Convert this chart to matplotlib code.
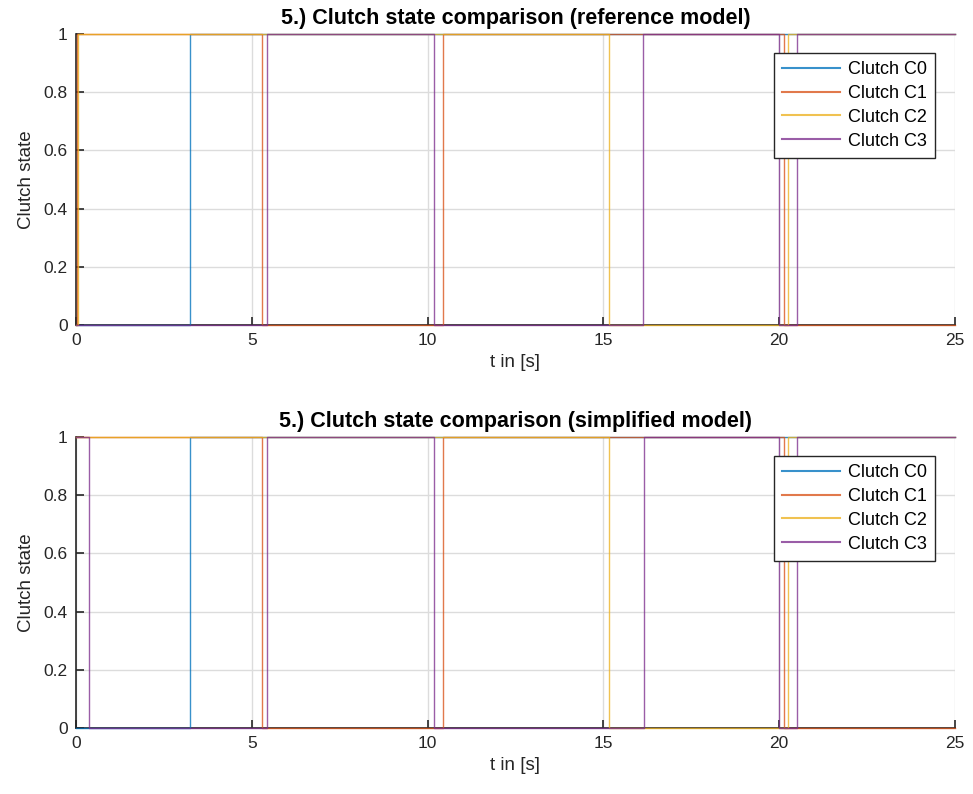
import numpy as np
import matplotlib.pyplot as plt

plt.rcParams['font.family'] = ['Liberation Sans', 'DejaVu Sans']

# switching instants [s] and clutch states (held until the next instant)
t_end = 25.0

ref_c0_t = [0.0, 3.24, t_end]
ref_c0_s = [0, 1, 1]
ref_c1_t = [0.0, 0.03, 5.29, 10.43, 20.15, t_end]
ref_c1_s = [0, 1, 0, 1, 0, 0]
ref_c2_t = [0.0, 0.06, 15.17, 20.25, t_end]
ref_c2_s = [0, 1, 0, 1, 1]
ref_c3_t = [0.0, 5.42, 10.18, 16.14, 19.99, 20.52, t_end]
ref_c3_s = [0, 1, 0, 1, 0, 1, 1]

sim_c0_t = [0.0, 3.24, t_end]
sim_c0_s = [0, 1, 1]
sim_c1_t = [0.0, 5.29, 10.43, 20.15, t_end]
sim_c1_s = [1, 0, 1, 0, 0]
sim_c2_t = [0.0, 15.17, 20.25, t_end]
sim_c2_s = [1, 0, 1, 1]
sim_c3_t = [0.0, 0.36, 5.42, 10.18, 16.16, 19.99, 20.52, t_end]
sim_c3_s = [1, 0, 1, 0, 1, 0, 1, 1]

labels = ['Clutch C0', 'Clutch C1', 'Clutch C2', 'Clutch C3']
colors = ['#0072BD', '#D95319', '#EDB120', '#7E2F8E']

x_ticks = [0, 5, 10, 15, 20, 25]
y_ticks = [0, 0.2, 0.4, 0.6, 0.8, 1]
y_ticklabels = ['0', '0.2', '0.4', '0.6', '0.8', '1']

fig = plt.figure(figsize=(9.73, 7.94), dpi=100)
ax1 = fig.add_axes([0.0781, 0.5907, 0.9034, 0.3665])
ax2 = fig.add_axes([0.0781, 0.0831, 0.9034, 0.3665])

ref = [(ref_c0_t, ref_c0_s), (ref_c1_t, ref_c1_s), (ref_c2_t, ref_c2_s), (ref_c3_t, ref_c3_s)]
sim = [(sim_c0_t, sim_c0_s), (sim_c1_t, sim_c1_s), (sim_c2_t, sim_c2_s), (sim_c3_t, sim_c3_s)]


def clutch_plot(ax, data, title):
    for (t, s), lab, c in zip(data, labels, colors):
        ax.step(t, s, where='post', color=c, lw=1.0, alpha=0.78, label=lab,
                clip_on=False, zorder=3)
    ax.set_xlim(0, 25)
    ax.set_ylim(0, 1)
    ax.set_xticks(x_ticks)
    ax.set_yticks(y_ticks)
    ax.set_yticklabels(y_ticklabels)
    ax.grid(True, color='#DCDCDC', lw=1)
    ax.set_axisbelow(True)
    for side in ['top', 'right']:
        ax.spines[side].set_visible(False)
    for side in ['left', 'bottom']:
        ax.spines[side].set_color('#262626')
        ax.spines[side].set_linewidth(1.2)
        ax.spines[side].set_zorder(2)
    ax.tick_params(direction='in', length=6, width=1.2, color='#262626',
                   labelcolor='#262626', labelsize=12.5, pad=6)
    ax.set_xlabel('t in [s]', fontsize=13.5, color='#262626', labelpad=4)
    ax.set_ylabel('Clutch state', fontsize=13.5, color='#262626', labelpad=6)
    ax.set_title(title, fontsize=15.5, fontweight='bold', pad=7)
    leg = ax.legend(loc='upper right', bbox_to_anchor=(0.977, 0.935), borderaxespad=0,
                    fontsize=13, handlelength=3.2, handletextpad=0.45, labelspacing=0.38,
                    fancybox=False, framealpha=1, edgecolor='#262626', borderpad=0.45)
    leg.get_frame().set_linewidth(1.0)
    leg.set_zorder(5)
    for h in leg.get_lines():
        h.set_alpha(0.78)
        h.set_linewidth(1.5)


clutch_plot(ax1, ref, '5.) Clutch state comparison (reference model)')
clutch_plot(ax2, sim, '5.) Clutch state comparison (simplified model)')

fig.savefig('out.png', dpi=100)
